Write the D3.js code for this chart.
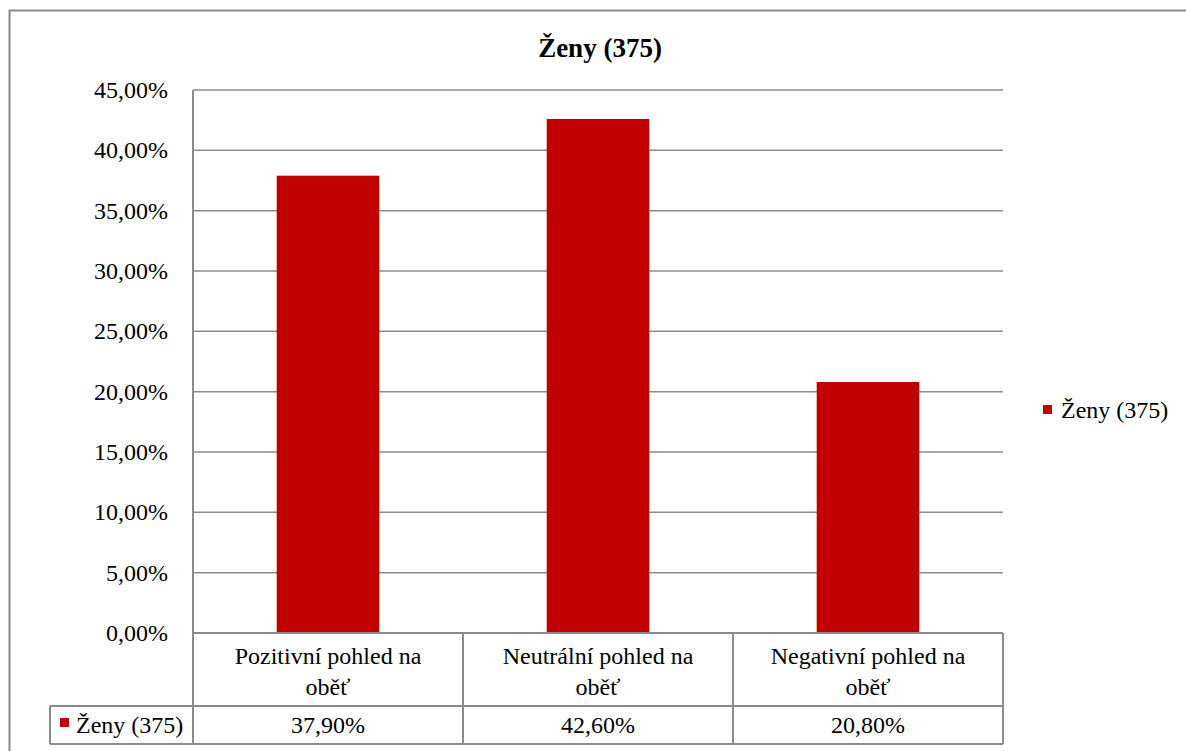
<!DOCTYPE html>
<html>
<head>
  <meta charset="utf-8">
  <script src="https://d3js.org/d3.v7.min.js"></script>
  <style>
    body { margin: 0; background: #fff; }
    svg text { font-family: "Times New Roman", "Liberation Serif", Tinos, "DejaVu Serif", serif; fill: #000; }
    .grid line { stroke: #8c8c8c; stroke-width: 1.5px; }
    .tbl line { stroke: #8c8c8c; stroke-width: 2px; }
  </style>
</head>
<body>
  <svg id="chart" width="1186" height="751"></svg>
  <script>
    var categories = ["Pozitivní pohled na oběť", "Neutrální pohled na oběť", "Negativní pohled na oběť"];
    var values = [37.9, 42.6, 20.8];
    var seriesName = "Ženy (375)";
    var yTicks = [0, 5, 10, 15, 20, 25, 30, 35, 40, 45];

    var red = "#c00000";
    var fmt = function(v) { return v.toFixed(2).replace(".", ",") + "%"; };

    var svg = d3.select("#chart");

    // outer chart border (runs past right and bottom edge)
    svg.append("rect")
      .attr("x", 9.5).attr("y", 10.5)
      .attr("width", 1200).attr("height", 800)
      .attr("fill", "none").attr("stroke", "#8c8c8c").attr("stroke-width", 2);

    svg.append("text")
      .attr("x", 600).attr("y", 57)
      .attr("text-anchor", "middle")
      .style("font-size", "27px").style("font-weight", "bold")
      .text(seriesName);

    var plotL = 193, plotR = 1003, plotT = 90, plotB = 633;
    var catB = 706, valB = 744, keyL = 50;

    var x = d3.scaleBand().domain(categories).range([plotL, plotR]);
    var y = d3.scaleLinear().domain([0, 45]).range([plotB, plotT]);

    // gridlines
    svg.append("g").attr("class", "grid")
      .selectAll("line").data(yTicks).join("line")
      .attr("x1", plotL).attr("x2", plotR)
      .attr("y1", function(d) { return y(d); })
      .attr("y2", function(d) { return y(d); });

    // y labels
    svg.append("g")
      .selectAll("text").data(yTicks).join("text")
      .attr("x", 168).attr("y", function(d) { return y(d); })
      .attr("dy", "0.33em")
      .attr("text-anchor", "end")
      .style("font-size", "24px")
      .text(fmt);

    // bars
    var bw = x.bandwidth() * 0.38;
    svg.append("g")
      .selectAll("rect").data(values).join("rect")
      .attr("x", function(d, i) { return x(categories[i]) + (x.bandwidth() - bw) / 2; })
      .attr("width", bw)
      .attr("y", function(d) { return y(d); })
      .attr("height", function(d) { return y(0) - y(d) - 1; })
      .attr("fill", red);

    // data table lines
    var tbl = svg.append("g").attr("class", "tbl");
    tbl.append("line").attr("x1", plotL).attr("x2", plotL).attr("y1", plotT).attr("y2", valB);
    tbl.append("line").attr("x1", plotL).attr("x2", plotR).attr("y1", plotB).attr("y2", plotB);
    tbl.append("line").attr("x1", keyL).attr("x2", plotR).attr("y1", catB).attr("y2", catB);
    tbl.append("line").attr("x1", keyL).attr("x2", plotR).attr("y1", valB).attr("y2", valB);
    tbl.append("line").attr("x1", keyL).attr("x2", keyL).attr("y1", catB).attr("y2", valB);
    tbl.selectAll("line.col").data(categories).join("line")
      .attr("class", "col")
      .attr("x1", function(d) { return x(d) + x.bandwidth(); })
      .attr("x2", function(d) { return x(d) + x.bandwidth(); })
      .attr("y1", plotB).attr("y2", valB);

    // category labels (wrapped before last word)
    categories.forEach(function(c) {
      var k = c.lastIndexOf(" ");
      var lines = [c.slice(0, k), c.slice(k + 1)];
      var t = svg.append("text")
        .attr("text-anchor", "middle")
        .style("font-size", "24px");
      lines.forEach(function(l, j) {
        t.append("tspan")
          .attr("x", x(c) + x.bandwidth() / 2)
          .attr("y", 664 + j * 31)
          .text(l);
      });
    });

    // values row
    svg.append("g")
      .selectAll("text").data(values).join("text")
      .attr("x", function(d, i) { return x(categories[i]) + x.bandwidth() / 2; })
      .attr("y", 733)
      .attr("text-anchor", "middle")
      .style("font-size", "24px")
      .text(fmt);

    // legend key inside table
    svg.append("rect").attr("x", 60).attr("y", 718).attr("width", 9).attr("height", 9).attr("fill", red);
    svg.append("text").attr("x", 76).attr("y", 733).style("font-size", "24px").text(seriesName);

    // legend on the right
    svg.append("rect").attr("x", 1043).attr("y", 405).attr("width", 9).attr("height", 9).attr("fill", red);
    svg.append("text").attr("x", 1061).attr("y", 418).style("font-size", "24px").text(seriesName);
  </script>
</body>
</html>
